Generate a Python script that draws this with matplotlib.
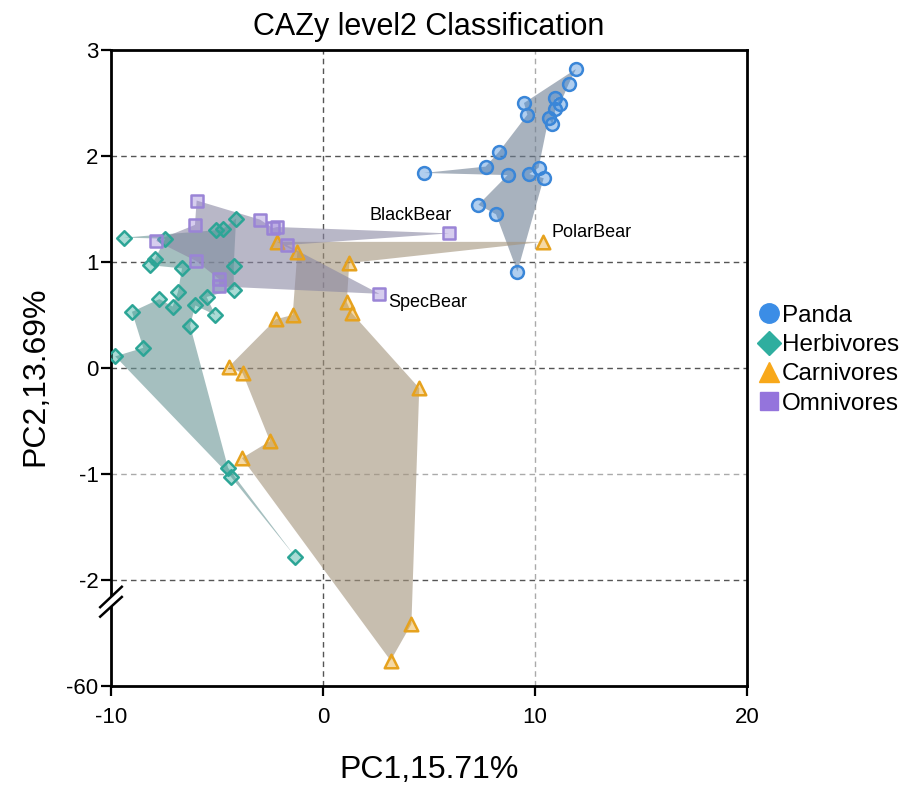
import numpy as np
import matplotlib
matplotlib.use("Agg")
import matplotlib.pyplot as plt
from matplotlib.lines import Line2D

plt.rcParams['font.family'] = ['Liberation Sans', 'DejaVu Sans']
plt.rcParams['axes.unicode_minus'] = False

# PCA scores per group, listed in outline order
panda_x = [11.93, 11.59, 11.18, 10.96, 10.96, 10.82, 10.65, 10.17, 9.73, 10.41,
           9.17, 8.16, 7.33, 8.71, 4.76, 7.67, 8.30, 9.64, 9.48]
panda_y = [2.82, 2.68, 2.49, 2.55, 2.44, 2.30, 2.36, 1.89, 1.83, 1.79,
           0.91, 1.45, 1.54, 1.82, 1.84, 1.90, 2.04, 2.39, 2.50]

herb_x = [-9.39, -5.03, -4.73, -4.10, -4.21, -4.21, -5.49, -5.08, -6.02, -6.27,
          -4.48, -1.31, -4.33, -9.80, -8.48, -9.01, -7.72, -7.09, -6.84, -6.65,
          -8.16, -7.92, -7.44]
herb_y = [1.23, 1.30, 1.31, 1.41, 0.96, 0.74, 0.67, 0.50, 0.59, 0.40,
          -0.94, -1.78, -1.03, 0.11, 0.19, 0.53, 0.65, 0.58, 0.72, 0.94,
          0.97, 1.03, 1.22]

carn_x = [-1.43, -1.21, -2.18, 10.38, 1.24, 1.12, 1.35, 4.54, 4.17, 3.19,
          -3.82, -2.50, -3.79, -4.45, -2.22]
carn_y = [0.50, 1.09, 1.19, 1.19, 0.99, 0.62, 0.52, -0.19, -26.1, -46.1,
          -0.85, -0.69, -0.05, 0.01, 0.46]

omni_x = [-5.96, -2.97, -2.37, -2.17, 5.96, -1.71, 2.66, -4.91, -4.91, -5.99,
          -7.88, -6.04]
omni_y = [1.58, 1.40, 1.32, 1.33, 1.27, 1.16, 0.70, 0.77, 0.84, 1.01,
          1.20, 1.35]

groups = ["Panda", "Herbivores", "Carnivores", "Omnivores"]
markers = ["o", "D", "^", "s"]
edge_colors = ["#3a86d8", "#2ca596", "#e6a21e", "#9a84d6"]
legend_colors = ["#3b8de6", "#2fae9f", "#f8a81a", "#9474dc"]
fill_colors = ["#6e7f93", "#6a9595", "#a3937b", "#8a87a3"]

# labelled samples: (name, group index, point index, offset, alignment)
labels = [("BlackBear", 3, 4, (2, 13), "right"),
          ("PolarBear", 2, 3, (6, 7), "left"),
          ("SpecBear", 3, 6, (6, -6), "left")]

xs = [panda_x, herb_x, carn_x, omni_x]
ys = [panda_y, herb_y, carn_y, omni_y]


# broken y axis: linear above -2, -2..-60 squeezed into one unit
def fwd(y):
    y = np.asarray(y, dtype=float)
    return np.where(y >= -2, y, -2 + (y + 2) / 58.0)


def inv(u):
    u = np.asarray(u, dtype=float)
    return np.where(u >= -2, u, -2 + (u + 2) * 58.0)


fig = plt.figure(figsize=(9.04, 7.94), dpi=100)
ax = fig.add_axes([111 / 904, 1 - 686 / 794, 636 / 904, 636 / 794])
ax.set_yscale('function', functions=(fwd, inv))
ax.set_xlim(-10, 20)
ax.set_ylim(-60, 3)

# reference lines
dark, light = "#555555", "#aaaaaa"
for xv, c in [(0, dark), (10, light)]:
    ax.axvline(xv, color=c, lw=1.0, ls=(0, (4, 3)), zorder=1)
for yv, c in [(2, dark), (1, dark), (0, dark), (-1, light), (-2, dark)]:
    ax.axhline(yv, color=c, lw=1.0, ls=(0, (4, 3)), zorder=1)

for i in range(4):
    ax.fill(xs[i], ys[i], color=fill_colors[i], alpha=0.6, lw=0, zorder=2)

for i in range(4):
    ax.scatter(xs[i], ys[i], marker=markers[i], s=[85, 55, 95, 80][i],
               facecolors=matplotlib.colors.to_rgba(edge_colors[i], 0.4),
               edgecolors=edge_colors[i], linewidths=1.8, zorder=4)

for name, g, k, off, ha in labels:
    ax.annotate(name, (xs[g][k], ys[g][k]), xytext=off, textcoords='offset points',
                ha=ha, va='center', fontsize=13, zorder=5)

ax.set_xticks([-10, 0, 10, 20])
ax.set_yticks([-60, -2, -1, 0, 1, 2, 3])
ax.set_yticklabels(["-60", "-2", "-1", "0", "1", "2", "3"])
ax.yaxis.set_minor_locator(matplotlib.ticker.NullLocator())
ax.tick_params(axis='both', direction='out', length=7, width=1.6, labelsize=16,
               color='black')
ax.tick_params(axis='x', pad=8)
ax.tick_params(axis='y', pad=2)
for sp in ax.spines.values():
    sp.set_linewidth(2.0)

# axis break mark
kw = dict(transform=ax.transAxes, clip_on=False, zorder=6)
ax.fill([-0.017, 0.017, 0.017, -0.017], [0.124, 0.156, 0.140, 0.109],
        color='white', lw=0, **kw)
ax.plot([-0.017, 0.017], [0.124, 0.156], color='black', lw=1.8, **kw)
ax.plot([-0.017, 0.017], [0.109, 0.140], color='black', lw=1.8, **kw)

ax.set_title("CAZy level2 Classification", fontsize=22, pad=11)
ax.set_xlabel("PC1,15.71%", fontsize=23)
ax.set_ylabel("PC2,13.69%", fontsize=23)
ax.xaxis.set_label_coords(0.5, -0.108)
ax.yaxis.set_label_coords(-0.095, 0.487)

handles = [Line2D([], [], ls='none', marker=markers[i], markersize=[14, 12, 15, 13][i],
                  markerfacecolor=legend_colors[i], markeredgecolor=legend_colors[i])
           for i in range(4)]
ax.legend(handles, groups, loc='center left', bbox_to_anchor=(1.02, 0.513),
          frameon=False, fontsize=17.5, handlelength=0.8, handletextpad=0.1,
          labelspacing=0.3, borderpad=0, borderaxespad=0)

fig.savefig("out.png", dpi=100)
